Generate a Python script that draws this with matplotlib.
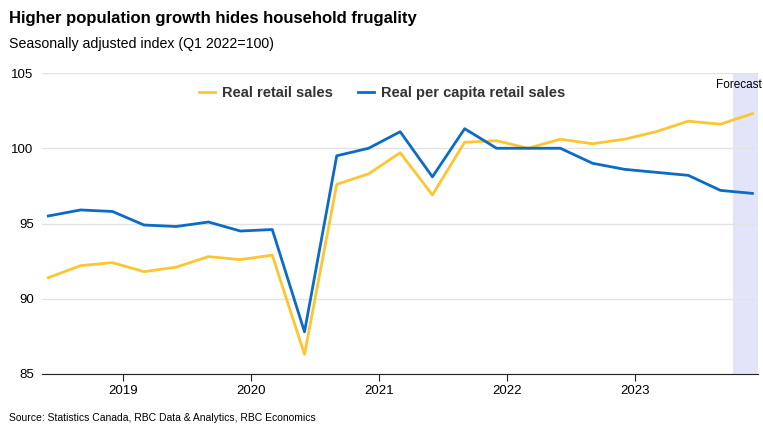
import datetime as dt
import matplotlib
matplotlib.use('Agg')
import matplotlib.pyplot as plt
import matplotlib.dates as mdates

plt.rcParams['font.family'] = ['Liberation Sans', 'DejaVu Sans']

quarters = ['2018Q2', '2018Q3', '2018Q4',
            '2019Q1', '2019Q2', '2019Q3', '2019Q4',
            '2020Q1', '2020Q2', '2020Q3', '2020Q4',
            '2021Q1', '2021Q2', '2021Q3', '2021Q4',
            '2022Q1', '2022Q2', '2022Q3', '2022Q4',
            '2023Q1', '2023Q2', '2023Q3', '2023Q4']
real_retail = [91.4, 92.2, 92.4,
               91.8, 92.1, 92.8, 92.6,
               92.9, 86.3, 97.6, 98.3,
               99.7, 96.9, 100.4, 100.5,
               100.0, 100.6, 100.3, 100.6,
               101.1, 101.8, 101.6, 102.3]
per_capita = [95.5, 95.9, 95.8,
              94.9, 94.8, 95.1, 94.5,
              94.6, 87.8, 99.5, 100.0,
              101.1, 98.1, 101.3, 100.0,
              100.0, 100.0, 99.0, 98.6,
              98.4, 98.2, 97.2, 97.0]
years = [2019, 2020, 2021, 2022, 2023]

# plotted at the last month of each quarter
dates = [dt.date(int(q[:4]), 3 * int(q[-1]), 1) for q in quarters]

fig = plt.figure(figsize=(7.63, 4.30), dpi=100)
ax = fig.add_axes([42 / 763, 1 - 374 / 430, 716 / 763, 301 / 430])

ax.axvspan(dt.date(2023, 10, 8), dt.date(2023, 12, 20), color='#e2e5f9', lw=0, zorder=0)
ax.plot(dates, real_retail, color='#fdc52f', lw=2, label='Real retail sales', zorder=3)
ax.plot(dates, per_capita, color='#0b6bc6', lw=2, label='Real per capita retail sales', zorder=3)

ax.set_xlim(dt.date(2018, 5, 14), dt.date(2023, 12, 17))
ax.set_ylim(85, 105)
ax.set_yticks([85, 90, 95, 100, 105])
ax.set_xticks([dt.date(y, 1, 1) for y in years])
ax.xaxis.set_major_formatter(mdates.DateFormatter('%Y'))
ax.grid(axis='y', color='#e3e3e3', lw=1)
ax.set_axisbelow(True)
for s in ['top', 'right', 'left']:
    ax.spines[s].set_visible(False)
ax.spines['bottom'].set_color('#222222')
ax.tick_params(axis='y', length=0, labelsize=9.5, pad=6)
ax.tick_params(axis='x', length=5, labelsize=9.5, color='#222222', pad=3)

fig.text(762 / 763, 1 - 85 / 430, 'Forecast', fontsize=8.5, va='center', ha='right')

leg = fig.legend(loc='center', bbox_to_anchor=(382 / 763, 1 - 93 / 430), ncol=2,
                 frameon=False, handlelength=1.1, columnspacing=1.7, handletextpad=0.5,
                 prop={'weight': 'bold', 'size': 10.5})
for t in leg.get_texts():
    t.set_color('#333333')

fig.text(9 / 763, 1 - 19 / 430, 'Higher population growth hides household frugality',
         fontsize=12, fontweight='bold', va='center')
fig.text(9 / 763, 1 - 44 / 430, 'Seasonally adjusted index (Q1 2022=100)',
         fontsize=10.2, va='center')
fig.text(9 / 763, 1 - 418 / 430, 'Source: Statistics Canada, RBC Data & Analytics, RBC Economics',
         fontsize=7.5, va='center')

fig.savefig('out.png', dpi=100)
